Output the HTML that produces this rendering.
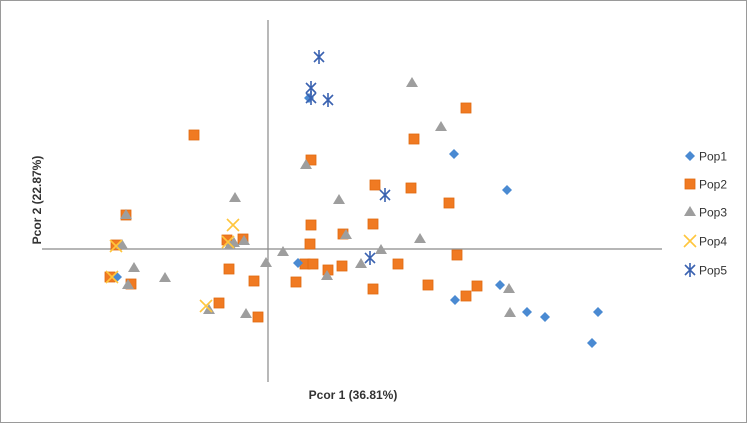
<!DOCTYPE html>
<html><head><meta charset="utf-8"><style>
body{margin:0;background:#fff}
svg{display:block;font-family:"Liberation Sans",sans-serif}
</style></head><body>
<svg id="chart" width="750" height="424" viewBox="0 0 750 424">
<rect x="0.5" y="0.5" width="746" height="422" fill="#fff" stroke="#9a9a9a"/>
<g id="axes"></g><g id="marks"></g>
<text x="353" y="399" text-anchor="middle" font-size="12" font-weight="bold" fill="#333">Pcor 1 (36.81%)</text>
<text transform="translate(41,200) rotate(-90)" text-anchor="middle" font-size="12" font-weight="bold" fill="#333">Pcor 2 (22.87%)</text>
<g id="legend"></g>
</svg>
<script>
const seriesNames=["Pop1","Pop2","Pop3","Pop4","Pop5"];
const pop1X=[-15.1,4.1,18.6,23.9,3.0,18.7,23.2,25.9,27.7,33.0,32.4];
const pop1Y=[-2.8,15.1,9.5,5.9,-1.4,-5.1,-3.6,-6.3,-6.8,-6.3,-9.4];
const pop2X=[-7.4,-14.2,-15.2,-4.1,-2.5,-3.9,-1.4,-13.7,-4.9,-1.0,-15.8,19.8,14.6,4.3,10.7,14.3,18.1,10.5,4.3,7.5,4.2,3.7,4.5,6.0,7.4,2.8,13.0,10.5,16.0,18.9,20.9,19.8];
const pop2Y=[11.4,3.4,0.4,0.9,1.0,-2.0,-3.2,-3.5,-5.4,-6.8,-2.8,14.1,11.0,8.9,6.4,6.1,4.6,2.5,2.4,1.5,0.5,-1.5,-1.5,-2.1,-1.7,-3.3,-1.5,-4.0,-3.6,-0.6,-3.7,-4.7];
const pop3X=[-3.3,-14.2,-14.6,-13.4,-10.3,-3.4,-2.4,-14.0,-5.9,-2.2,-0.2,-3.8,14.4,17.3,3.8,7.1,1.5,11.3,15.2,9.3,5.9,7.8,24.1,24.2];
const pop3Y=[5.1,3.4,0.4,-1.9,-2.9,0.6,0.8,-3.6,-6.1,-6.5,-1.4,0.4,16.6,12.2,8.4,4.9,-0.3,-0.1,1.0,-1.5,-2.7,1.4,-4.0,-6.4];
const pop4X=[-3.5,-15.2,-15.6,-4.0,-6.2];
const pop4Y=[2.4,0.3,-2.8,0.7,-5.7];
const pop5X=[5.1,4.3,4.3,6.0,11.7,10.2];
const pop5Y=[19.2,16.1,15.1,14.9,5.4,-0.9];
const colors=["#4a8ad2","#f07a22","#9e9e9e","#ffc63d","#3a62b0"];
function sx(v){return 268+v*10;}
function sy(v){return 249-v*10;}
const NS="http://www.w3.org/2000/svg";
function mk(t,a,p){const e=document.createElementNS(NS,t);for(const k in a)e.setAttribute(k,a[k]);p.appendChild(e);return e;}
const axes=document.getElementById('axes');
const xa=mk('line',{x1:42,x2:662,y1:sy(0),y2:sy(0),stroke:'#8a8a8a','stroke-width':1.2},axes);


const ya=mk('line',{x1:sx(0),x2:sx(0),y1:20,y2:382,stroke:'#8a8a8a','stroke-width':1.2},axes);


function marker(i,x,y,p){
  const c=colors[i];let e;
  if(i===0){e=mk('polygon',{points:`${x},${y-5} ${x+5},${y} ${x},${y+5} ${x-5},${y}`,fill:c},p);}
  else if(i===1){e=mk('rect',{x:x-5,y:y-5,width:10,height:10,fill:c,stroke:'#e06a10','stroke-width':0.8},p);}
  else if(i===2){e=mk('polygon',{points:`${x},${y-6} ${x+6},${y+4} ${x-6},${y+4}`,fill:c},p);}
  else if(i===3){e=mk('path',{d:`M${x-6} ${y-6}L${x+6} ${y+6}M${x+6} ${y-6}L${x-6} ${y+6}`,stroke:c,'stroke-width':1.6,fill:'none'},p);}
  else{e=mk('path',{d:`M${x-5} ${y-5}L${x+5} ${y+5}M${x+5} ${y-5}L${x-5} ${y+5}M${x} ${y-7}L${x} ${y+7}`,stroke:c,'stroke-width':1.6,fill:'none'},p);}
  return e;
}
const marks=document.getElementById('marks');
const xs=[pop1X,pop2X,pop3X,pop4X,pop5X],ys=[pop1Y,pop2Y,pop3Y,pop4Y,pop5Y];
const order=[1,2,0,3,4];
order.forEach(i=>{xs[i].forEach((v,j)=>{
  const e=marker(i,sx(v),sy(ys[i][j]),marks);
  
  
});});
const lg=document.getElementById('legend');
const ly=[156,184,212,241,270];
seriesNames.forEach((n,i)=>{
  const m=marker(i,690,ly[i],lg);
  
  
  const t=mk('text',{x:699,y:ly[i]+4.5,'font-size':12,fill:'#333'},lg);
  t.textContent=n;
  
  
});
</script>
</body></html>
